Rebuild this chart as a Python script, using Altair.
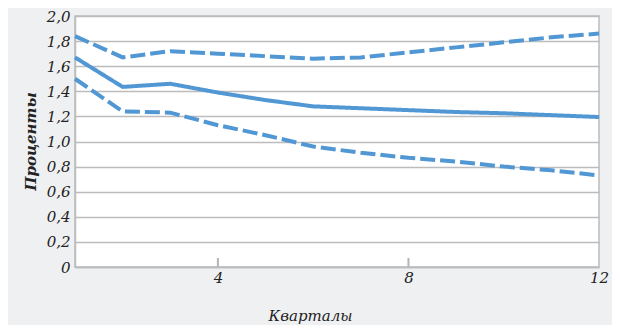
import altair as alt
import pandas as pd

quarters = list(range(1, 13))
upper = [1.84, 1.67, 1.72, 1.70, 1.68, 1.66, 1.67, 1.71, 1.75, 1.79, 1.83, 1.86]
middle = [1.67, 1.435, 1.46, 1.39, 1.33, 1.28, 1.265, 1.25, 1.235, 1.225, 1.21, 1.195]
lower = [1.50, 1.24, 1.23, 1.13, 1.05, 0.96, 0.91, 0.87, 0.84, 0.80, 0.77, 0.73]
series_names = ["upper", "middle", "lower"]
x_ticks = [4, 8, 12]
y_ticks = [0, 0.2, 0.4, 0.6, 0.8, 1.0, 1.2, 1.4, 1.6, 1.8, 2.0]
inner_ticks = [4, 8]

rows = []
for name, vals in zip(series_names, [upper, middle, lower]):
    for q, v in zip(quarters, vals):
        rows.append({"q": q, "v": v, "s": name})
df = pd.DataFrame(rows)
tick_df = pd.DataFrame({"q": inner_ticks, "v": [0] * len(inner_ticks)})

BLUE = "#5097d4"
GRID = "#bcbcbc"
FONT = "DejaVu Serif"

x_enc = alt.X(
    "q:Q",
    scale=alt.Scale(domain=[1, 12], nice=False, zero=False),
    axis=alt.Axis(
        values=x_ticks,
        title="Кварталы",
        titleX=235,
        titleY=48,
        titleAlign="center",
        titleBaseline="middle",
        titleFont=FONT,
        titleFontStyle="italic",
        titleFontWeight="normal",
        titleFontSize=15,
        titleColor="#222222",
        labelFont=FONT,
        labelFontStyle="italic",
        labelFontSize=15,
        labelColor="#222222",
        labelPadding=3,
        labelOverlap=False,
        labelFlush=False,
        ticks=False,
        grid=False,
        domainColor=GRID,
        domainWidth=1.5,
    ),
)
y_enc = alt.Y(
    "v:Q",
    scale=alt.Scale(domain=[0, 2], nice=False),
    axis=alt.Axis(
        values=y_ticks,
        labelExpr="datum.value == 0 ? '0' : replace(format(datum.value, '.1f'), '.', ',')",
        title="Проценты",
        titleAngle=-90,
        titleX=-45,
        titleY=125,
        titleAlign="center",
        titleBaseline="middle",
        titleFont=FONT,
        titleFontStyle="italic",
        titleFontWeight="bold",
        titleFontSize=15,
        titleColor="#222222",
        labelFont=FONT,
        labelFontStyle="italic",
        labelFontSize=15,
        labelColor="#222222",
        labelPadding=5,
        labelOverlap=False,
        labelFlush=False,
        ticks=False,
        grid=True,
        gridColor=GRID,
        gridWidth=1.5,
        domainColor=GRID,
        domainWidth=1.5,
    ),
)

lines = alt.Chart(df).mark_line(strokeWidth=4, color=BLUE).encode(
    x=x_enc,
    y=y_enc,
    detail="s:N",
    strokeDash=alt.StrokeDash(
        "s:N",
        scale=alt.Scale(domain=series_names, range=[[15, 5], [1, 0], [15, 5]]),
        legend=None,
    ),
)

ticks = alt.Chart(tick_df).mark_tick(
    orient="vertical", size=9, thickness=2, color="#b4b4b4", opacity=1, yOffset=-4.5
).encode(x=x_enc, y=y_enc)

chart = (
    alt.layer(ticks, lines)
    .properties(
        width=524,
        height=251,
        autosize=alt.AutoSizeParams(type="none"),
        padding={"left": 67, "top": 8, "right": 13, "bottom": 58},
        background="#eff0f2",
    )
    .configure_view(fill="white", stroke=GRID, strokeWidth=1.5)
)

chart.save("out.html", embed_options={"renderer": "svg", "actions": False})
